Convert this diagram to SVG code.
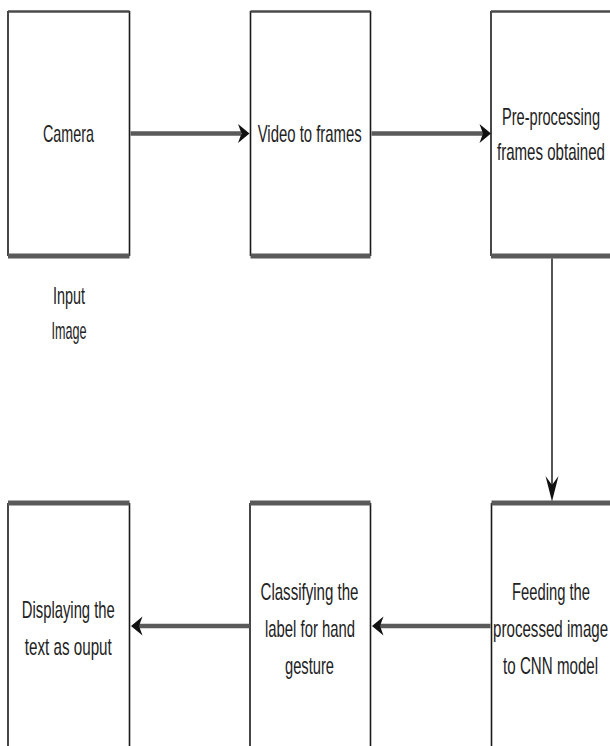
<svg xmlns="http://www.w3.org/2000/svg" width="610" height="746" viewBox="0 0 610 746">
<style>
.bg{fill:#ffffff;stroke:none}
.side{stroke:#1a1a1a;stroke-width:1.6;fill:none}
.edgeT{stroke:#4a4a4a;stroke-width:2.5;fill:none}
.edgeB{stroke:#5a5a5a;stroke-width:5;fill:none}
.t{font-family:"Liberation Sans",Arial,sans-serif;font-size:24px;fill:#222;text-anchor:middle}
.conn{stroke:#5a5a5a;stroke-width:4.5;fill:none}
.thin{stroke:#2a2a2a;stroke-width:1.6;fill:none}
.head{fill:#111;stroke:none}
</style>
<rect x="0" y="0" width="610" height="746" fill="#ffffff"/>

<g id="camera">
<path class="side" d="M8,11 V256 M129.5,11 V256"/>
<path class="edgeT" d="M8,11.5 H129.5"/>
<path class="edgeB" d="M8,256 H129.5"/>
<text class="t" x="68.5" y="142" textLength="51" lengthAdjust="spacingAndGlyphs">Camera</text>
</g>

<g id="input-image">
<text class="t" x="69" y="304" textLength="32" lengthAdjust="spacingAndGlyphs">Input</text>
<text class="t" x="69" y="339" textLength="35" lengthAdjust="spacingAndGlyphs">Image</text>
</g>

<g id="video-to-frames">
<path class="side" d="M250.5,11 V256 M370.5,11 V256"/>
<path class="edgeT" d="M250.5,11.5 H370.5"/>
<path class="edgeB" d="M250.5,256 H370.5"/>
<text class="t" x="309.7" y="142" textLength="104" lengthAdjust="spacingAndGlyphs">Video to frames</text>
</g>

<g id="preprocessing">
<path class="side" d="M491,11 V256"/>
<path class="edgeT" d="M491,11.5 H612"/>
<path class="edgeB" d="M491,256 H612"/>
<text class="t" x="551" y="125" textLength="98" lengthAdjust="spacingAndGlyphs">Pre-processing</text>
<text class="t" x="551" y="160" textLength="108" lengthAdjust="spacingAndGlyphs">frames obtained</text>
</g>

<g id="feeding-cnn">
<path class="side" d="M491.5,503 V750"/>
<path class="edgeB" d="M491.5,503 H612"/>
<text class="t" x="551" y="600" textLength="78" lengthAdjust="spacingAndGlyphs">Feeding the</text>
<text class="t" x="550.6" y="637" textLength="115" lengthAdjust="spacingAndGlyphs">processed image</text>
<text class="t" x="550.6" y="674" textLength="95" lengthAdjust="spacingAndGlyphs">to CNN model</text>
</g>

<g id="classifying">
<path class="side" d="M250,503 V750 M370.5,503 V750"/>
<path class="edgeB" d="M250,503 H370.5"/>
<text class="t" x="309.5" y="600" textLength="98" lengthAdjust="spacingAndGlyphs">Classifying the</text>
<text class="t" x="310" y="637" textLength="90" lengthAdjust="spacingAndGlyphs">label for hand</text>
<text class="t" x="309.5" y="674" textLength="49" lengthAdjust="spacingAndGlyphs">gesture</text>
</g>

<g id="displaying">
<path class="side" d="M8,503 V750 M129.5,503 V750"/>
<path class="edgeB" d="M8,503 H129.5"/>
<text class="t" x="68.3" y="618" textLength="93" lengthAdjust="spacingAndGlyphs">Displaying the</text>
<text class="t" x="68.3" y="655" textLength="87" lengthAdjust="spacingAndGlyphs">text as ouput</text>
</g>

<g id="connectors">
<path class="conn" d="M130.5,133.5 H241"/>
<path class="head" d="M249.5,133.5 L238,124 L241.5,133.5 L238,143 Z"/>
<path class="conn" d="M371.5,133.5 H483"/>
<path class="head" d="M491,133.5 L479.5,124 L483,133.5 L479.5,143 Z"/>
<path class="thin" d="M552,258.5 V490"/>
<path class="head" d="M552,501.5 L545.5,476 L552,485 L558.5,476 Z"/>
<path class="conn" d="M490.5,626 H380"/>
<path class="head" d="M372,626 L383.5,616.5 L380,626 L383.5,635.5 Z"/>
<path class="conn" d="M249.5,626 H139"/>
<path class="head" d="M131,626 L142.5,616.5 L139,626 L142.5,635.5 Z"/>
</g>
</svg>
